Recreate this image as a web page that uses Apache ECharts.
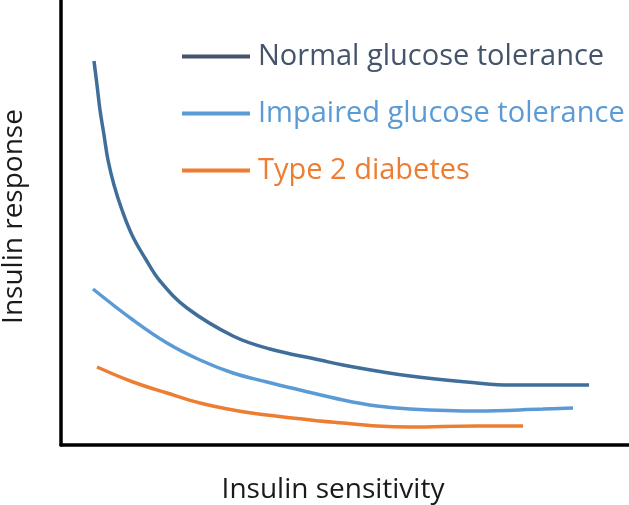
<!DOCTYPE html>
<html><head><meta charset="utf-8">
<script src="https://cdn.jsdelivr.net/npm/echarts@6/dist/echarts.min.js"></script>
<style>html,body{margin:0;padding:0;background:#fff}#c{width:629px;height:505px}</style>
</head><body><div id="c"></div>
<script>
const seriesNames = ['Normal glucose tolerance', 'Impaired glucose tolerance', 'Type 2 diabetes'];
const normalX = [33,36,39,43,47,53,61,71,84,99,126,172,209,259,282,349,416,449,528];
const normalY = [384,360,335,310,285,260,235,210,187,164,137,109,96,85,80,69,62,60,60];
const impairedX = [32,72,106,139,172,206,239,282,316,349,416,482,512];
const impairedY = [156,125,102,85,72,63,55,45,39,36,34,36,37];
const t2dX = [36,72,106,139,172,206,259,282,316,349,416,462];
const t2dY = [78,63,52,42,35,30,24,22,19,18,19,19];
const xAxisName = 'Insulin sensitivity';
const yAxisName = 'Insulin response';

const zip = (xs, ys) => xs.map((x, i) => [x, ys[i]]);
const curveColors = ['#3F6E9A', '#5B9BD5', '#ED7D31'];
const legendColors = ['#44546A', '#5B9BD5', '#ED7D31'];
const datasets = [zip(normalX, normalY), zip(impairedX, impairedY), zip(t2dX, t2dY)];
const FONT = "'Open Sans'";

const chart = echarts.init(document.getElementById('c'));
chart.setOption({
  animation: false,
  grid: {left: 61, right: 0, top: 0, bottom: 60, containLabel: false, outerBoundsMode: 'none'},
  xAxis: {
    type: 'value', min: 0, max: 568,
    name: xAxisName, nameLocation: 'middle', nameGap: 31,
    nameTextStyle: {fontFamily: FONT, fontSize: 28, color: '#1a1a1a', padding: [0, 24, 0, 0]},
    axisLine: {show: true, lineStyle: {color: '#000', width: 3.5}},
    axisTick: {show: false}, axisLabel: {show: false}, splitLine: {show: false}
  },
  yAxis: {
    type: 'value', min: 0, max: 445,
    name: yAxisName, nameLocation: 'middle', nameGap: 33,
    nameTextStyle: {fontFamily: FONT, fontSize: 28, color: '#1a1a1a', padding: [0, 0, 0, 12]},
    axisLine: {show: true, lineStyle: {color: '#000', width: 3.5}},
    axisTick: {show: false}, axisLabel: {show: false}, splitLine: {show: false}
  },
  legend: {
    orient: 'vertical', left: 177, top: 37,
    icon: 'rect', itemWidth: 68, itemHeight: 4, itemGap: 28,
    textStyle: {fontFamily: FONT, fontSize: 29, lineHeight: 28, padding: [0, 0, 0, 3]},
    data: seriesNames.map((n, i) => ({
      name: n, itemStyle: {color: legendColors[i]},
      textStyle: {color: legendColors[i], fontFamily: FONT, fontSize: 29, lineHeight: 28, padding: [0, 0, 0, 3]}
    }))
  },
  series: seriesNames.map((n, i) => ({
    name: n, type: 'line', data: datasets[i], smooth: 0.4,
    symbol: 'none', lineStyle: {color: curveColors[i], width: 3.5},
    itemStyle: {color: curveColors[i]}
  }))
});
</script></body></html>
